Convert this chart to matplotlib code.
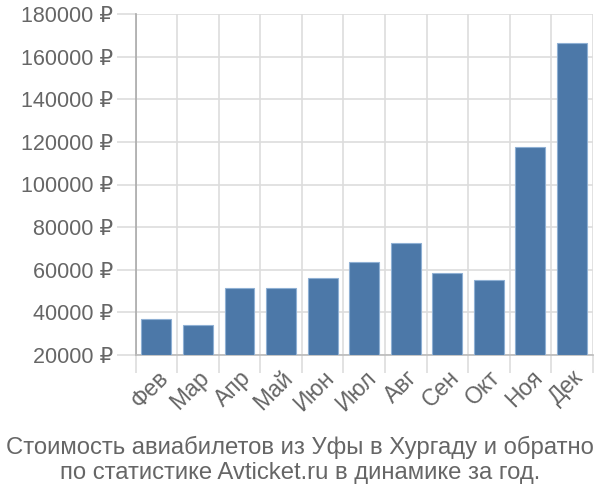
import matplotlib.pyplot as plt
import numpy as np

months = ["Фев", "Мар", "Апр", "Май", "Июн", "Июл", "Авг", "Сен", "Окт", "Ноя", "Дек"]
prices = [36900, 34200, 51400, 51400, 56100, 63700, 72500, 58500, 55300, 117600, 166500]
yticks = [20000, 40000, 60000, 80000, 100000, 120000, 140000, 160000, 180000]
title = "Стоимость авиабилетов из Уфы в Хургаду и обратно\nпо статистике Avticket.ru в динамике за год."

plt.rcParams["font.family"] = ["Liberation Sans", "DejaVu Sans"]
text_col = "#666666"
grid_col = "#dddddd"

fig = plt.figure(figsize=(6, 5), dpi=100)
ax = fig.add_axes([0.226, 0.29, 0.762, 0.682])

x = np.arange(len(months))
base = yticks[0]
ax.bar(x, [p - base for p in prices], 0.72, bottom=base,
       color="#4c78a8", edgecolor="#8fb0d4", linewidth=0.8, zorder=3)

ax.set_xlim(-0.5, len(months) - 0.5)
ax.set_ylim(yticks[0], yticks[-1])
ax.set_yticks(yticks)
ax.set_yticklabels([f"{v} ₽" for v in yticks], fontsize=15.5, color=text_col)
ax.set_xticks(x)
ax.set_xticklabels(months, rotation=45, ha="right", rotation_mode="anchor",
                   fontsize=16.5, color=text_col)
ax.set_xticks(np.arange(-0.5, len(months)), minor=True)

ax.tick_params(axis="x", which="major", length=0, pad=8)
ax.tick_params(axis="x", which="minor", length=13, color=grid_col, width=1.2)
ax.tick_params(axis="y", length=14, color=grid_col, width=1.2, pad=2)

ax.grid(True, axis="y", color=grid_col, linewidth=1.2, zorder=0)
ax.grid(True, axis="x", which="minor", color=grid_col, linewidth=1.2, zorder=0)

for s in ["top", "right"]:
    ax.spines[s].set_visible(False)
ax.spines["left"].set_color("#aaaaaa")
ax.spines["bottom"].set_color("#bbbbbb")
ax.spines["left"].set_linewidth(1.2)
ax.spines["bottom"].set_linewidth(1.2)

fig.text(0.5, 0.08, title, ha="center", va="center", fontsize=17.2,
         color=text_col, linespacing=1.2)

fig.savefig("out.png", dpi=100)
